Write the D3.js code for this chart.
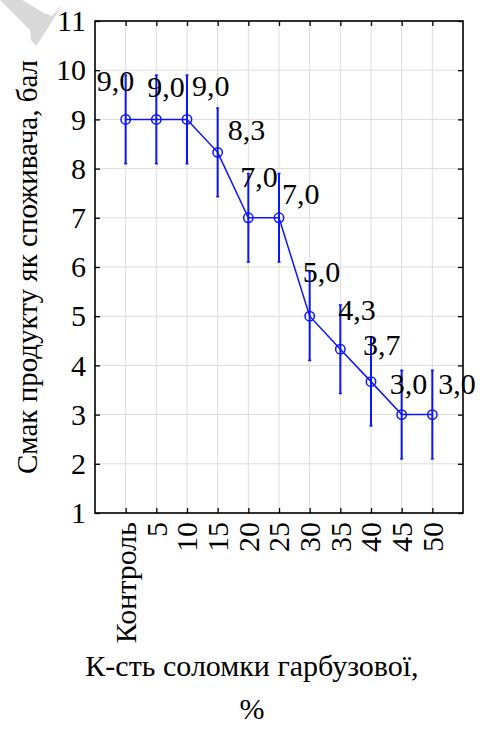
<!DOCTYPE html>
<html>
<head>
<meta charset="utf-8">
<script src="https://cdn.jsdelivr.net/npm/d3@7"></script>
<style>
  body { margin: 0; background: #fff; }
</style>
</head>
<body>
<svg id="chart" width="480" height="730" style="font-family: 'Times New Roman', Tinos, 'Liberation Serif', serif"></svg>
<script>
// data
var categories = ["Контроль", "5", "10", "15", "20", "25", "30", "35", "40", "45", "50"];
var means = [9.0, 9.0, 9.0, 8.33, 7.0, 7.0, 5.0, 4.33, 3.67, 3.0, 3.0];
var errors = [0.9, 0.9, 0.9, 0.9, 0.9, 0.9, 0.9, 0.9, 0.9, 0.9, 0.9];
var yTicks = [1, 2, 3, 4, 5, 6, 7, 8, 9, 10, 11];

// where each value label sits relative to its point (left edge, baseline)
var labelNudge = [[-29, -28], [-9, -22], [5, -23], [10, -12], [-8, -31], [3, -14],
                  [-7, -34], [-2, -29], [-8, -27], [-12, -21], [6, -21]];

var FONT = "'Times New Roman', Tinos, 'Liberation Serif', serif";

var margin = {top: 21, right: 17, bottom: 217, left: 95},
    width = 480 - margin.left - margin.right,
    height = 730 - margin.top - margin.bottom;

var svg = d3.select("#chart");

// grey watermark scrap in the corner
svg.append("path")
  .attr("d", "M0,0 L22,0 L44,13 L52,16 L62,5 L48,28 L36,46 L31,40 L30,30 L18,18 Z")
  .attr("fill", "#d9d9d9");

var g = svg.append("g")
  .attr("transform", "translate(" + margin.left + "," + margin.top + ")");

var x = d3.scalePoint().domain(categories).range([0, width]).padding(1);
var y = d3.scaleLinear().domain([1, 11]).range([height, 0]);

// grid
g.append("g").selectAll("line.hg")
  .data(yTicks)
  .enter().append("line")
    .attr("x1", 0).attr("x2", width)
    .attr("y1", function(d) { return y(d); })
    .attr("y2", function(d) { return y(d); })
    .attr("stroke", "#dcdcdc").attr("stroke-width", 1);

g.append("g").selectAll("line.vg")
  .data(categories)
  .enter().append("line")
    .attr("x1", function(d) { return x(d); })
    .attr("x2", function(d) { return x(d); })
    .attr("y1", 0).attr("y2", height)
    .attr("stroke", "#dcdcdc").attr("stroke-width", 1);

// axes with inside ticks on all four sides, labels written separately
var tl = 5;
var yLeft = g.append("g").call(d3.axisLeft(y).tickValues(yTicks).tickSize(-tl).tickFormat(""));
var yRight = g.append("g").attr("transform", "translate(" + width + ",0)")
  .call(d3.axisRight(y).tickValues(yTicks).tickSize(-tl).tickFormat(""));
var xBottom = g.append("g").attr("transform", "translate(0," + height + ")")
  .call(d3.axisBottom(x).tickSize(-tl).tickFormat(""));
var xTop = g.append("g")
  .call(d3.axisTop(x).tickSize(-tl).tickFormat(""));

[yLeft, yRight, xBottom, xTop].forEach(function(a) {
  a.attr("font-family", null);
  a.select(".domain").remove();
  a.selectAll(".tick text").remove();
  a.selectAll(".tick line").attr("stroke", "#000").attr("stroke-width", 1.3);
});

// frame
g.append("rect")
  .attr("width", width).attr("height", height)
  .attr("fill", "none").attr("stroke", "#000").attr("stroke-width", 1.6);

// series
var pts = categories.map(function(c, i) { return {c: c, m: means[i], e: errors[i], i: i}; });
var blue = "#0a14ff";

g.append("g").selectAll("line.err")
  .data(pts)
  .enter().append("line")
    .attr("x1", function(d) { return x(d.c); })
    .attr("x2", function(d) { return x(d.c); })
    .attr("y1", function(d) { return y(d.m - d.e); })
    .attr("y2", function(d) { return y(d.m + d.e); })
    .attr("stroke", blue).attr("stroke-width", 2);

g.append("g").selectAll("line.cap")
  .data(pts.concat(pts.map(function(d) { return {c: d.c, m: d.m, e: -d.e, i: d.i}; })))
  .enter().append("line")
    .attr("x1", function(d) { return x(d.c) - 1.5; })
    .attr("x2", function(d) { return x(d.c) + 1.5; })
    .attr("y1", function(d) { return y(d.m + d.e); })
    .attr("y2", function(d) { return y(d.m + d.e); })
    .attr("stroke", blue).attr("stroke-width", 1.5);

var line = d3.line()
  .x(function(d) { return x(d.c); })
  .y(function(d) { return y(d.m); });

g.append("path")
  .datum(pts)
  .attr("d", line)
  .attr("fill", "none")
  .attr("stroke", blue)
  .attr("stroke-width", 1.5);

g.append("g").selectAll("circle")
  .data(pts)
  .enter().append("circle")
    .attr("cx", function(d) { return x(d.c); })
    .attr("cy", function(d) { return y(d.m); })
    .attr("r", 4.7)
    .attr("fill", "none")
    .attr("stroke", blue)
    .attr("stroke-width", 1.5);

// all text goes straight onto the svg
var ox = margin.left, oy = margin.top;

function serif(sel, size) {
  return sel.attr("font-family", FONT)
    .attr("font-size", size)
    .style("font-family", FONT)
    .style("font-size", size + "px");
}

serif(svg.selectAll("text.ytick")
  .data(yTicks)
  .enter().append("text")
    .attr("class", "ytick")
    .attr("x", ox - 9)
    .attr("y", function(d) { return oy + y(d); })
    .attr("dy", "0.34em")
    .attr("text-anchor", "end"), 30)
    .text(function(d) { return d; });

serif(svg.selectAll("text.xtick")
  .data(categories)
  .enter().append("text")
    .attr("class", "xtick")
    .attr("transform", function(d) { return "translate(" + (ox + x(d)) + "," + (oy + height + 9) + ") rotate(-90)"; })
    .attr("dy", "0.34em")
    .attr("text-anchor", "end"), 30)
    .text(function(d) { return d; });

serif(svg.selectAll("text.val")
  .data(pts)
  .enter().append("text")
    .attr("class", "val")
    .attr("x", function(d) { return ox + x(d.c) + labelNudge[d.i][0]; })
    .attr("y", function(d) { return oy + y(d.m) + labelNudge[d.i][1]; }), 30)
    .text(function(d) { return d.m.toFixed(1).replace(".", ","); });

// axis titles
serif(svg.append("text")
  .attr("transform", "translate(37," + (oy + height / 2) + ") rotate(-90)")
  .attr("text-anchor", "middle"), 29)
  .text("Смак продукту як споживача, бал");

serif(svg.append("text")
  .attr("x", 252).attr("y", 676)
  .attr("text-anchor", "middle"), 30)
  .text("К-сть соломки гарбузової,");

serif(svg.append("text")
  .attr("x", 252).attr("y", 719)
  .attr("text-anchor", "middle"), 30)
  .text("%");
</script>
</body>
</html>
